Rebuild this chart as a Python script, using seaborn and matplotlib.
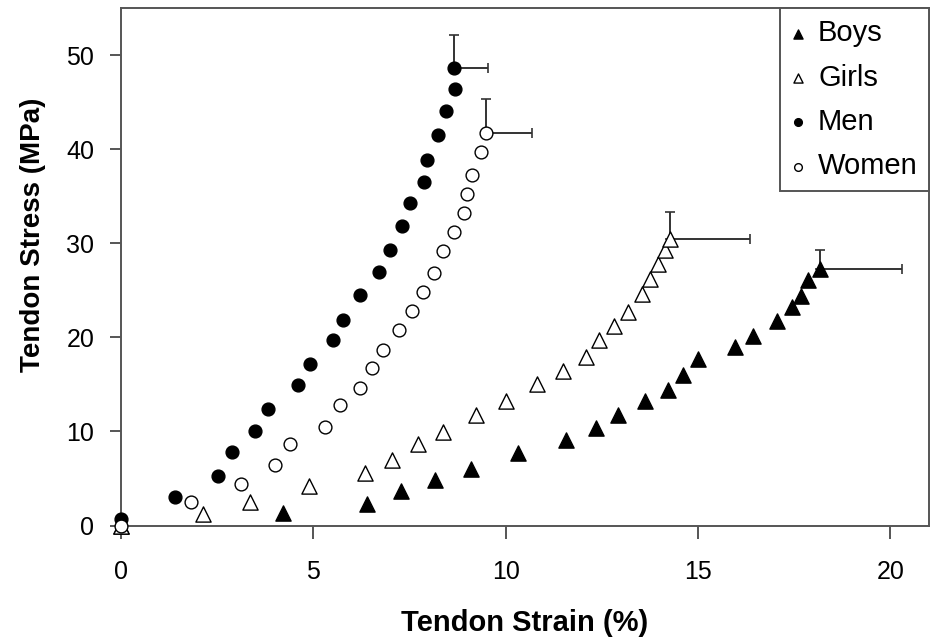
import matplotlib
matplotlib.use("Agg")
import matplotlib.pyplot as plt
import seaborn as sns
import pandas as pd

sns.set_style("ticks")
plt.rcParams["font.family"] = ["Liberation Sans", "DejaVu Sans"]
plt.rcParams["text.color"] = "black"
plt.rcParams["axes.labelcolor"] = "black"
plt.rcParams["xtick.labelcolor"] = "black"
plt.rcParams["ytick.labelcolor"] = "black"

# strain (%) / stress (MPa)
boys_x = [0, 4.22, 6.39, 7.28, 8.17, 9.09, 10.31, 11.57, 12.36, 12.92, 13.61,
          14.22, 14.62, 15.0, 15.96, 16.43, 17.05, 17.44, 17.68, 17.87, 18.16]
boys_y = [0, 1.3, 2.28, 3.63, 4.83, 6.04, 7.67, 9.09, 10.4, 11.7, 13.2,
          14.4, 16.0, 17.7, 19.0, 20.2, 21.7, 23.2, 24.4, 26.1, 27.3]

girls_x = [0, 2.15, 3.36, 4.88, 6.35, 7.04, 7.72, 8.38, 9.24, 10.0, 10.82,
           11.49, 12.09, 12.43, 12.82, 13.19, 13.55, 13.74, 13.95, 14.14, 14.28]
girls_y = [0, 1.19, 2.46, 4.2, 5.6, 6.96, 8.66, 9.97, 11.74, 13.2, 15.0,
           16.4, 17.9, 19.7, 21.2, 22.7, 24.6, 26.2, 27.8, 29.3, 30.5]

men_x = [0, 1.41, 2.54, 2.90, 3.48, 3.84, 4.61, 4.93, 5.52, 5.78, 6.22,
         6.71, 6.99, 7.32, 7.51, 7.89, 7.95, 8.25, 8.44, 8.68, 8.66]
men_y = [0.7, 3.06, 5.26, 7.78, 10.0, 12.4, 14.9, 17.2, 19.7, 21.9, 24.5,
         27.0, 29.3, 31.8, 34.3, 36.5, 38.9, 41.5, 44.05, 46.4, 48.65]

women_x = [0, 1.84, 3.12, 4.0, 4.39, 5.32, 5.70, 6.23, 6.52, 6.82, 7.24,
           7.57, 7.86, 8.14, 8.38, 8.66, 8.92, 9.00, 9.13, 9.35, 9.49]
women_y = [0, 2.46, 4.44, 6.43, 8.66, 10.5, 12.8, 14.6, 16.8, 18.7, 20.8,
           22.8, 24.8, 26.9, 29.2, 31.2, 33.2, 35.2, 37.3, 39.7, 41.7]

groups = ["Boys", "Girls", "Men", "Women"]
# one-sided SD at the final point (strain +, stress +)
sd_strain = [2.15, 2.07, 0.89, 1.19]
sd_stress = [2.05, 2.85, 3.5, 3.7]

markers = {"Boys": "^", "Girls": "^", "Men": "o", "Women": "o"}
faces = {"Boys": "black", "Girls": "white", "Men": "black", "Women": "white"}
sizes = {"Boys": 120, "Girls": 120, "Men": 85, "Women": 85}

series = {"Boys": (boys_x, boys_y), "Girls": (girls_x, girls_y),
          "Men": (men_x, men_y), "Women": (women_x, women_y)}
df = pd.concat([pd.DataFrame({"strain": xs, "stress": ys, "group": g})
                for g, (xs, ys) in series.items()], ignore_index=True)

fig = plt.figure(figsize=(9.34, 6.43), dpi=100)
ax = fig.add_axes([0.1292, 0.1827, 0.8654, 0.8044])

edge = "#555555"
for g, sx, sy in zip(groups, sd_strain, sd_stress):
    sub = df[df["group"] == g]
    last = sub.iloc[-1]
    ax.errorbar(last["strain"], last["stress"], xerr=[[0], [sx]], yerr=[[0], [sy]],
                fmt="none", ecolor="#333333", elinewidth=1.4, capsize=3.5,
                capthick=1.2, zorder=2)
    sns.scatterplot(data=sub, x="strain", y="stress", marker=markers[g],
                    color=faces[g], edgecolor="black", linewidth=1.0,
                    s=sizes[g], label=g, ax=ax, zorder=3, clip_on=False)

ax.set_xlim(0, 21)
ax.set_ylim(0, 55)
ax.set_xticks([0, 5, 10, 15, 20])
ax.set_yticks([0, 10, 20, 30, 40, 50])
for sp in ax.spines.values():
    sp.set_visible(True)
    sp.set_color(edge)
    sp.set_linewidth(1.4)
ax.tick_params(axis="x", length=9, width=1.4, color=edge, pad=16, labelsize=18)
ax.tick_params(axis="y", length=8, width=1.4, color=edge, pad=11, labelsize=18)

ax.set_xlabel("Tendon Strain (%)", fontsize=21, fontweight="bold")
ax.set_ylabel("Tendon Stress (MPa)", fontsize=20, fontweight="bold")
ax.xaxis.set_label_coords(0.5, -0.1885)
ax.xaxis.label.set_va("center")
ax.yaxis.set_label_coords(-0.1085, 0.5617)
ax.yaxis.label.set_va("center")

leg = ax.legend(loc="upper right", bbox_to_anchor=(1, 1), borderaxespad=0,
                fontsize=21, frameon=True, fancybox=False, framealpha=1,
                markerscale=0.6, handlelength=0.5, handletextpad=0.44,
                borderpad=0.38, labelspacing=0.56)
leg.get_frame().set_edgecolor(edge)
leg.get_frame().set_linewidth(1.4)

fig.savefig("out.png", dpi=100, facecolor="white")
